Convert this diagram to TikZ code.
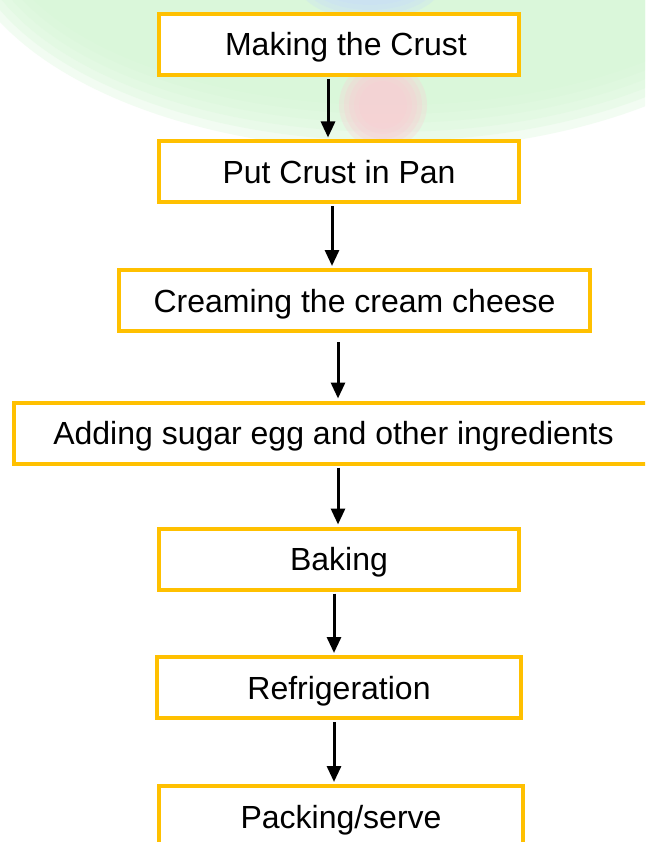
\documentclass[tikz,border=0pt]{standalone}
\usepackage{fontspec}
\setmainfont{Liberation Sans}
\usetikzlibrary{positioning,arrows.meta}
\definecolor{goldline}{RGB}{255,192,0}
\definecolor{mintwash}{RGB}{214,247,214}
\definecolor{rosewash}{RGB}{250,205,212}
\definecolor{skywash}{RGB}{200,222,250}
\tikzset{
  stepbox/.style={draw=goldline,fill=white,line width=4pt,
    minimum height=61pt,inner sep=0pt,
    font=\fontsize{32}{38}\selectfont,text height=23pt,text depth=0pt},
  flowarrow/.style={draw=black,line width=3pt,shorten <=2pt,shorten >=2pt,
    -{Triangle[width=14pt,length=16pt]}},
  softwash/.style={fill opacity=0.3}
}

\begin{document}
\begin{tikzpicture}[x=1pt,y=-1pt]
        \clip (0,0) rectangle (645,842);
        \fill[white] (0,0) rectangle (645,842);
        \foreach \k in {0,...,5}
          \fill[mintwash,softwash] (390,-80) ellipse [x radius=395+8*\k,y radius=185+9*\k];
        \foreach \k in {0,...,4}
          \fill[skywash,softwash] (370,-20) ellipse [x radius=50+6*\k,y radius=20+5*\k];
        \foreach \k in {0,...,4}
          \fill[rosewash,softwash] (383,105) circle [radius=24+5*\k];

        \node[stepbox,minimum width=360pt] (crust) at (339,44.5) {\hspace*{14pt}Making the Crust};
        \node[stepbox,minimum width=360pt] (pan) at (339,172) {Put Crust in Pan};
        \node[stepbox,minimum width=471pt] (cream) at (354.5,300.5) {Creaming the cream cheese};
        \node[stepbox,minimum width=639pt] (adding) at (333.5,433) {Adding sugar egg and other ingredients};
        \node[stepbox,minimum width=360pt] (baking) at (339,559) {Baking};
        \node[stepbox,minimum width=364pt] (fridge) at (339,687.5) {Refrigeration};
        \node[stepbox,minimum width=364pt] (packing) at (341,816.5) {Packing/serve};

        \draw[flowarrow] ([xshift=-11pt]crust.south) -- ([xshift=-11pt]crust.south |- pan.north);
        \draw[flowarrow] ([xshift=-7pt]pan.south) -- ([xshift=-7pt]pan.south |- cream.north);
        \draw[flowarrow,shorten <=9pt] ([xshift=-16.5pt]cream.south) -- ([xshift=-16.5pt]cream.south |- adding.north);
        \draw[flowarrow] ([xshift=4.5pt]adding.south) -- ([xshift=4.5pt]adding.south |- baking.north);
        \draw[flowarrow] ([xshift=-5pt]baking.south) -- ([xshift=-5pt]baking.south |- fridge.north);
        \draw[flowarrow] ([xshift=-5pt]fridge.south) -- ([xshift=-5pt]fridge.south |- packing.north);
      \end{tikzpicture}
\end{document}
